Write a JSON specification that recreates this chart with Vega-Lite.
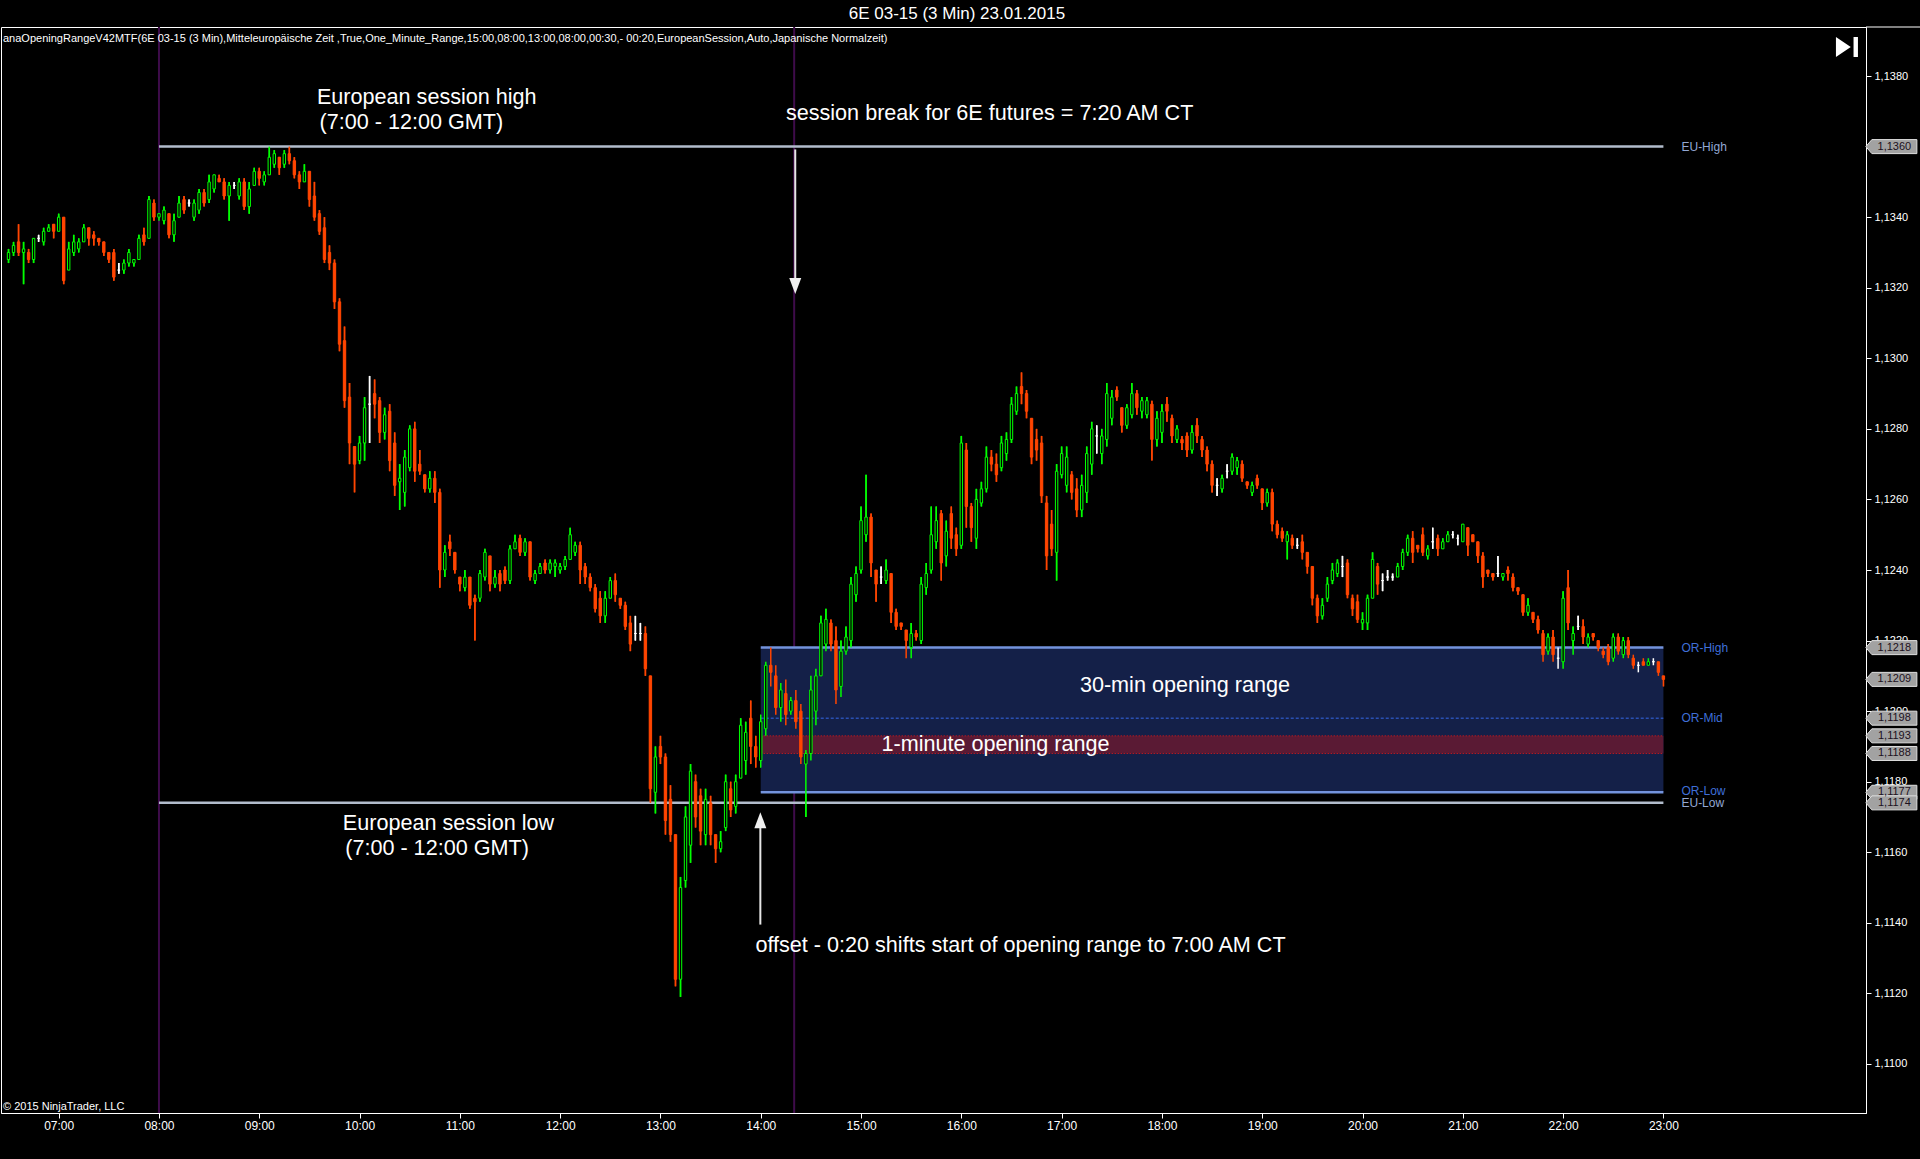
{
"$schema": "https://vega.github.io/schema/vega-lite/v6.json",
"width": 1865,
"height": 1086,
"autosize": {"type": "none"},
"padding": {"left": 1, "top": 27, "right": 54, "bottom": 46},
"background": "#000000",
"config": {"view": {"stroke": "#ffffff", "strokeWidth": 1}, "axis": {"grid": false}},
"datasets": {
"candles": [
{"t":6.5,"o":1.1328,"h":1.1331,"l":1.1327,"c":1.1330},
{"t":6.55,"o":1.1330,"h":1.1333,"l":1.1329,"c":1.1332},
{"t":6.6,"o":1.1333,"h":1.1338,"l":1.1329,"c":1.1330},
{"t":6.65,"o":1.1330,"h":1.1333,"l":1.1321,"c":1.1331},
{"t":6.7,"o":1.1330,"h":1.1331,"l":1.1327,"c":1.1328},
{"t":6.75,"o":1.1328,"h":1.1334,"l":1.1327,"c":1.1334},
{"t":6.8,"o":1.1334,"h":1.1335,"l":1.1333,"c":1.1334},
{"t":6.85,"o":1.1333,"h":1.1337,"l":1.1332,"c":1.1336},
{"t":6.9,"o":1.1336,"h":1.1338,"l":1.1336,"c":1.1337},
{"t":6.95,"o":1.1338,"h":1.1338,"l":1.1334,"c":1.1336},
{"t":7,"o":1.1336,"h":1.1341,"l":1.1336,"c":1.1340},
{"t":7.05,"o":1.1340,"h":1.1340,"l":1.1321,"c":1.1322},
{"t":7.1,"o":1.1325,"h":1.1333,"l":1.1325,"c":1.1331},
{"t":7.15,"o":1.1330,"h":1.1335,"l":1.1329,"c":1.1333},
{"t":7.2,"o":1.1331,"h":1.1334,"l":1.1330,"c":1.1333},
{"t":7.25,"o":1.1333,"h":1.1338,"l":1.1333,"c":1.1337},
{"t":7.3,"o":1.1337,"h":1.1337,"l":1.1332,"c":1.1334},
{"t":7.35,"o":1.1335,"h":1.1336,"l":1.1332,"c":1.1334},
{"t":7.4,"o":1.1334,"h":1.1334,"l":1.1332,"c":1.1333},
{"t":7.45,"o":1.1333,"h":1.1333,"l":1.1329,"c":1.1330},
{"t":7.5,"o":1.1330,"h":1.1330,"l":1.1327,"c":1.1328},
{"t":7.55,"o":1.1330,"h":1.1331,"l":1.1322,"c":1.1323},
{"t":7.6,"o":1.1325,"h":1.1327,"l":1.1324,"c":1.1325},
{"t":7.65,"o":1.1325,"h":1.1328,"l":1.1324,"c":1.1327},
{"t":7.7,"o":1.1327,"h":1.1331,"l":1.1326,"c":1.1330},
{"t":7.75,"o":1.1327,"h":1.1328,"l":1.1326,"c":1.1328},
{"t":7.8,"o":1.1328,"h":1.1335,"l":1.1328,"c":1.1334},
{"t":7.85,"o":1.1335,"h":1.1337,"l":1.1332,"c":1.1333},
{"t":7.9,"o":1.1334,"h":1.1346,"l":1.1334,"c":1.1345},
{"t":7.95,"o":1.1344,"h":1.1345,"l":1.1339,"c":1.1340},
{"t":8,"o":1.1340,"h":1.1341,"l":1.1339,"c":1.1341},
{"t":8.05,"o":1.1339,"h":1.1343,"l":1.1338,"c":1.1342},
{"t":8.1,"o":1.1341,"h":1.1341,"l":1.1334,"c":1.1335},
{"t":8.15,"o":1.1335,"h":1.1341,"l":1.1333,"c":1.1339},
{"t":8.2,"o":1.1340,"h":1.1346,"l":1.1340,"c":1.1344},
{"t":8.25,"o":1.1345,"h":1.1346,"l":1.1341,"c":1.1342},
{"t":8.3,"o":1.1344,"h":1.1345,"l":1.1343,"c":1.1344},
{"t":8.35,"o":1.1340,"h":1.1345,"l":1.1339,"c":1.1344},
{"t":8.4,"o":1.1342,"h":1.1348,"l":1.1341,"c":1.1347},
{"t":8.45,"o":1.1347,"h":1.1348,"l":1.1343,"c":1.1344},
{"t":8.5,"o":1.1345,"h":1.1352,"l":1.1344,"c":1.1350},
{"t":8.55,"o":1.1348,"h":1.1352,"l":1.1347,"c":1.1352},
{"t":8.6,"o":1.1351,"h":1.1352,"l":1.1350,"c":1.1350},
{"t":8.65,"o":1.1350,"h":1.1351,"l":1.1345,"c":1.1346},
{"t":8.7,"o":1.1346,"h":1.1350,"l":1.1339,"c":1.1349},
{"t":8.75,"o":1.1349,"h":1.1350,"l":1.1348,"c":1.1349},
{"t":8.8,"o":1.1346,"h":1.1351,"l":1.1345,"c":1.1350},
{"t":8.85,"o":1.1350,"h":1.1351,"l":1.1342,"c":1.1343},
{"t":8.9,"o":1.1343,"h":1.1350,"l":1.1341,"c":1.1348},
{"t":8.95,"o":1.1349,"h":1.1354,"l":1.1349,"c":1.1353},
{"t":9,"o":1.1353,"h":1.1354,"l":1.1349,"c":1.1351},
{"t":9.05,"o":1.1350,"h":1.1353,"l":1.1349,"c":1.1352},
{"t":9.1,"o":1.1352,"h":1.1360,"l":1.1352,"c":1.1357},
{"t":9.15,"o":1.1355,"h":1.1359,"l":1.1354,"c":1.1358},
{"t":9.2,"o":1.1357,"h":1.1357,"l":1.1352,"c":1.1354},
{"t":9.25,"o":1.1355,"h":1.1359,"l":1.1354,"c":1.1358},
{"t":9.3,"o":1.1358,"h":1.1360,"l":1.1355,"c":1.1356},
{"t":9.35,"o":1.1356,"h":1.1357,"l":1.1351,"c":1.1352},
{"t":9.4,"o":1.1352,"h":1.1353,"l":1.1348,"c":1.1350},
{"t":9.45,"o":1.1350,"h":1.1355,"l":1.1350,"c":1.1353},
{"t":9.5,"o":1.1353,"h":1.1353,"l":1.1343,"c":1.1345},
{"t":9.55,"o":1.1346,"h":1.1350,"l":1.1339,"c":1.1340},
{"t":9.6,"o":1.1341,"h":1.1342,"l":1.1335,"c":1.1336},
{"t":9.65,"o":1.1337,"h":1.1340,"l":1.1327,"c":1.1328},
{"t":9.7,"o":1.1330,"h":1.1332,"l":1.1325,"c":1.1327},
{"t":9.75,"o":1.1327,"h":1.1328,"l":1.1314,"c":1.1316},
{"t":9.8,"o":1.1316,"h":1.1317,"l":1.1302,"c":1.1304},
{"t":9.85,"o":1.1305,"h":1.1309,"l":1.1286,"c":1.1288},
{"t":9.9,"o":1.1289,"h":1.1293,"l":1.1270,"c":1.1276},
{"t":9.95,"o":1.1275,"h":1.1275,"l":1.1262,"c":1.1270},
{"t":10,"o":1.1271,"h":1.1278,"l":1.1270,"c":1.1276},
{"t":10.05,"o":1.1276,"h":1.1289,"l":1.1271,"c":1.1286},
{"t":10.1,"o":1.1287,"h":1.1295,"l":1.1276,"c":1.1287},
{"t":10.15,"o":1.1290,"h":1.1294,"l":1.1283,"c":1.1287},
{"t":10.2,"o":1.1288,"h":1.1289,"l":1.1276,"c":1.1279},
{"t":10.25,"o":1.1279,"h":1.1286,"l":1.1277,"c":1.1284},
{"t":10.3,"o":1.1285,"h":1.1287,"l":1.1268,"c":1.1271},
{"t":10.35,"o":1.1276,"h":1.1279,"l":1.1261,"c":1.1264},
{"t":10.4,"o":1.1265,"h":1.1270,"l":1.1257,"c":1.1266},
{"t":10.45,"o":1.1262,"h":1.1274,"l":1.1258,"c":1.1272},
{"t":10.5,"o":1.1269,"h":1.1281,"l":1.1268,"c":1.1280},
{"t":10.55,"o":1.1280,"h":1.1282,"l":1.1265,"c":1.1268},
{"t":10.6,"o":1.1270,"h":1.1274,"l":1.1267,"c":1.1268},
{"t":10.65,"o":1.1267,"h":1.1267,"l":1.1262,"c":1.1263},
{"t":10.7,"o":1.1263,"h":1.1268,"l":1.1262,"c":1.1266},
{"t":10.75,"o":1.1266,"h":1.1268,"l":1.1259,"c":1.1262},
{"t":10.8,"o":1.1262,"h":1.1263,"l":1.1235,"c":1.1240},
{"t":10.85,"o":1.1240,"h":1.1247,"l":1.1238,"c":1.1245},
{"t":10.9,"o":1.1248,"h":1.1250,"l":1.1244,"c":1.1246},
{"t":10.95,"o":1.1245,"h":1.1245,"l":1.1239,"c":1.1240},
{"t":11,"o":1.1238,"h":1.1238,"l":1.1234,"c":1.1236},
{"t":11.05,"o":1.1235,"h":1.1240,"l":1.1234,"c":1.1238},
{"t":11.1,"o":1.1238,"h":1.1238,"l":1.1229,"c":1.1230},
{"t":11.15,"o":1.1232,"h":1.1233,"l":1.1220,"c":1.1231},
{"t":11.2,"o":1.1232,"h":1.1240,"l":1.1231,"c":1.1239},
{"t":11.25,"o":1.1238,"h":1.1246,"l":1.1237,"c":1.1245},
{"t":11.3,"o":1.1244,"h":1.1244,"l":1.1234,"c":1.1236},
{"t":11.35,"o":1.1236,"h":1.1240,"l":1.1235,"c":1.1238},
{"t":11.4,"o":1.1239,"h":1.1240,"l":1.1234,"c":1.1236},
{"t":11.45,"o":1.1240,"h":1.1241,"l":1.1236,"c":1.1237},
{"t":11.5,"o":1.1237,"h":1.1247,"l":1.1236,"c":1.1246},
{"t":11.55,"o":1.1246,"h":1.1250,"l":1.1246,"c":1.1248},
{"t":11.6,"o":1.1249,"h":1.1250,"l":1.1244,"c":1.1245},
{"t":11.65,"o":1.1245,"h":1.1249,"l":1.1244,"c":1.1248},
{"t":11.7,"o":1.1248,"h":1.1248,"l":1.1237,"c":1.1238},
{"t":11.75,"o":1.1237,"h":1.1240,"l":1.1236,"c":1.1239},
{"t":11.8,"o":1.1239,"h":1.1242,"l":1.1239,"c":1.1241},
{"t":11.85,"o":1.1242,"h":1.1243,"l":1.1239,"c":1.1240},
{"t":11.9,"o":1.1240,"h":1.1243,"l":1.1239,"c":1.1242},
{"t":11.95,"o":1.1241,"h":1.1243,"l":1.1238,"c":1.1242},
{"t":12,"o":1.1240,"h":1.1242,"l":1.1239,"c":1.1241},
{"t":12.05,"o":1.1241,"h":1.1244,"l":1.1240,"c":1.1243},
{"t":12.1,"o":1.1243,"h":1.1252,"l":1.1243,"c":1.1250},
{"t":12.15,"o":1.1245,"h":1.1248,"l":1.1244,"c":1.1247},
{"t":12.2,"o":1.1247,"h":1.1248,"l":1.1236,"c":1.1240},
{"t":12.25,"o":1.1241,"h":1.1242,"l":1.1236,"c":1.1238},
{"t":12.3,"o":1.1238,"h":1.1239,"l":1.1234,"c":1.1235},
{"t":12.35,"o":1.1235,"h":1.1236,"l":1.1228,"c":1.1229},
{"t":12.4,"o":1.1232,"h":1.1234,"l":1.1225,"c":1.1227},
{"t":12.45,"o":1.1227,"h":1.1234,"l":1.1225,"c":1.1232},
{"t":12.5,"o":1.1232,"h":1.1238,"l":1.1232,"c":1.1237},
{"t":12.55,"o":1.1237,"h":1.1239,"l":1.1231,"c":1.1233},
{"t":12.6,"o":1.1232,"h":1.1232,"l":1.1229,"c":1.1230},
{"t":12.65,"o":1.1230,"h":1.1231,"l":1.1223,"c":1.1224},
{"t":12.7,"o":1.1225,"h":1.1227,"l":1.1217,"c":1.1219},
{"t":12.75,"o":1.1222,"h":1.1227,"l":1.1220,"c":1.1222},
{"t":12.8,"o":1.1222,"h":1.1225,"l":1.1220,"c":1.1222},
{"t":12.85,"o":1.1222,"h":1.1224,"l":1.1210,"c":1.1212},
{"t":12.9,"o":1.1210,"h":1.1210,"l":1.1174,"c":1.1178},
{"t":12.95,"o":1.1177,"h":1.1190,"l":1.1171,"c":1.1187},
{"t":13,"o":1.1190,"h":1.1193,"l":1.1185,"c":1.1187},
{"t":13.05,"o":1.1187,"h":1.1188,"l":1.1165,"c":1.1169},
{"t":13.1,"o":1.1175,"h":1.1179,"l":1.1163,"c":1.1165},
{"t":13.15,"o":1.1165,"h":1.1165,"l":1.1122,"c":1.1124},
{"t":13.2,"o":1.1124,"h":1.1153,"l":1.1119,"c":1.1150},
{"t":13.25,"o":1.1152,"h":1.1173,"l":1.1150,"c":1.1170},
{"t":13.3,"o":1.1162,"h":1.1185,"l":1.1157,"c":1.1183},
{"t":13.35,"o":1.1180,"h":1.1182,"l":1.1167,"c":1.1170},
{"t":13.4,"o":1.1176,"h":1.1178,"l":1.1162,"c":1.1166},
{"t":13.45,"o":1.1165,"h":1.1178,"l":1.1162,"c":1.1175},
{"t":13.5,"o":1.1174,"h":1.1176,"l":1.1162,"c":1.1165},
{"t":13.55,"o":1.1165,"h":1.1165,"l":1.1157,"c":1.1161},
{"t":13.6,"o":1.1161,"h":1.1166,"l":1.1160,"c":1.1163},
{"t":13.65,"o":1.1167,"h":1.1182,"l":1.1166,"c":1.1180},
{"t":13.7,"o":1.1178,"h":1.1180,"l":1.1170,"c":1.1172},
{"t":13.75,"o":1.1173,"h":1.1182,"l":1.1171,"c":1.1180},
{"t":13.8,"o":1.1181,"h":1.1198,"l":1.1181,"c":1.1196},
{"t":13.85,"o":1.1186,"h":1.1197,"l":1.1182,"c":1.1194},
{"t":13.9,"o":1.1198,"h":1.1203,"l":1.1185,"c":1.1190},
{"t":13.95,"o":1.1190,"h":1.1193,"l":1.1184,"c":1.1187},
{"t":14,"o":1.1186,"h":1.1199,"l":1.1184,"c":1.1197},
{"t":14.05,"o":1.1195,"h":1.1214,"l":1.1193,"c":1.1213},
{"t":14.1,"o":1.1213,"h":1.1218,"l":1.1207,"c":1.1211},
{"t":14.15,"o":1.1210,"h":1.1213,"l":1.1199,"c":1.1201},
{"t":14.2,"o":1.1201,"h":1.1208,"l":1.1197,"c":1.1206},
{"t":14.25,"o":1.1205,"h":1.1209,"l":1.1196,"c":1.1199},
{"t":14.3,"o":1.1200,"h":1.1204,"l":1.1199,"c":1.1203},
{"t":14.35,"o":1.1203,"h":1.1206,"l":1.1195,"c":1.1197},
{"t":14.4,"o":1.1200,"h":1.1202,"l":1.1185,"c":1.1187},
{"t":14.45,"o":1.1185,"h":1.1189,"l":1.1170,"c":1.1188},
{"t":14.5,"o":1.1188,"h":1.1210,"l":1.1186,"c":1.1206},
{"t":14.55,"o":1.1200,"h":1.1212,"l":1.1196,"c":1.1210},
{"t":14.6,"o":1.1210,"h":1.1227,"l":1.1210,"c":1.1225},
{"t":14.65,"o":1.1219,"h":1.1229,"l":1.1217,"c":1.1226},
{"t":14.7,"o":1.1225,"h":1.1226,"l":1.1217,"c":1.1219},
{"t":14.75,"o":1.1220,"h":1.1224,"l":1.1202,"c":1.1206},
{"t":14.8,"o":1.1207,"h":1.1220,"l":1.1204,"c":1.1217},
{"t":14.85,"o":1.1217,"h":1.1224,"l":1.1216,"c":1.1221},
{"t":14.9,"o":1.1220,"h":1.1238,"l":1.1218,"c":1.1236},
{"t":14.95,"o":1.1233,"h":1.1241,"l":1.1231,"c":1.1239},
{"t":15,"o":1.1240,"h":1.1258,"l":1.1239,"c":1.1254},
{"t":15.05,"o":1.1250,"h":1.1267,"l":1.1248,"c":1.1255},
{"t":15.1,"o":1.1255,"h":1.1256,"l":1.1238,"c":1.1242},
{"t":15.15,"o":1.1240,"h":1.1240,"l":1.1231,"c":1.1236},
{"t":15.2,"o":1.1238,"h":1.1241,"l":1.1236,"c":1.1238},
{"t":15.25,"o":1.1237,"h":1.1243,"l":1.1236,"c":1.1240},
{"t":15.3,"o":1.1239,"h":1.1239,"l":1.1225,"c":1.1228},
{"t":15.35,"o":1.1228,"h":1.1229,"l":1.1223,"c":1.1224},
{"t":15.4,"o":1.1225,"h":1.1225,"l":1.1223,"c":1.1224},
{"t":15.45,"o":1.1223,"h":1.1223,"l":1.1215,"c":1.1220},
{"t":15.5,"o":1.1218,"h":1.1225,"l":1.1215,"c":1.1222},
{"t":15.55,"o":1.1222,"h":1.1223,"l":1.1220,"c":1.1221},
{"t":15.6,"o":1.1220,"h":1.1238,"l":1.1219,"c":1.1236},
{"t":15.65,"o":1.1235,"h":1.1242,"l":1.1233,"c":1.1239},
{"t":15.7,"o":1.1240,"h":1.1258,"l":1.1239,"c":1.1250},
{"t":15.75,"o":1.1248,"h":1.1258,"l":1.1246,"c":1.1254},
{"t":15.8,"o":1.1256,"h":1.1257,"l":1.1237,"c":1.1242},
{"t":15.85,"o":1.1244,"h":1.1254,"l":1.1241,"c":1.1251},
{"t":15.9,"o":1.1256,"h":1.1258,"l":1.1246,"c":1.1249},
{"t":15.95,"o":1.1250,"h":1.1252,"l":1.1244,"c":1.1246},
{"t":16,"o":1.1247,"h":1.1278,"l":1.1246,"c":1.1276},
{"t":16.05,"o":1.1274,"h":1.1276,"l":1.1252,"c":1.1258},
{"t":16.1,"o":1.1258,"h":1.1259,"l":1.1248,"c":1.1252},
{"t":16.15,"o":1.1249,"h":1.1263,"l":1.1246,"c":1.1260},
{"t":16.2,"o":1.1259,"h":1.1265,"l":1.1258,"c":1.1263},
{"t":16.25,"o":1.1263,"h":1.1275,"l":1.1262,"c":1.1272},
{"t":16.3,"o":1.1272,"h":1.1274,"l":1.1268,"c":1.1270},
{"t":16.35,"o":1.1270,"h":1.1273,"l":1.1265,"c":1.1267},
{"t":16.4,"o":1.1269,"h":1.1278,"l":1.1268,"c":1.1276},
{"t":16.45,"o":1.1273,"h":1.1279,"l":1.1271,"c":1.1277},
{"t":16.5,"o":1.1277,"h":1.1289,"l":1.1276,"c":1.1287},
{"t":16.55,"o":1.1285,"h":1.1292,"l":1.1284,"c":1.1290},
{"t":16.6,"o":1.1292,"h":1.1296,"l":1.1287,"c":1.1290},
{"t":16.65,"o":1.1290,"h":1.1291,"l":1.1283,"c":1.1285},
{"t":16.7,"o":1.1283,"h":1.1283,"l":1.1270,"c":1.1272},
{"t":16.75,"o":1.1277,"h":1.1280,"l":1.1271,"c":1.1274},
{"t":16.8,"o":1.1276,"h":1.1278,"l":1.1259,"c":1.1261},
{"t":16.85,"o":1.1259,"h":1.1261,"l":1.1240,"c":1.1244},
{"t":16.9,"o":1.1253,"h":1.1257,"l":1.1244,"c":1.1246},
{"t":16.95,"o":1.1245,"h":1.1270,"l":1.1237,"c":1.1268},
{"t":17,"o":1.1267,"h":1.1275,"l":1.1266,"c":1.1273},
{"t":17.05,"o":1.1264,"h":1.1275,"l":1.1262,"c":1.1272},
{"t":17.1,"o":1.1267,"h":1.1268,"l":1.1260,"c":1.1262},
{"t":17.15,"o":1.1263,"h":1.1266,"l":1.1255,"c":1.1257},
{"t":17.2,"o":1.1257,"h":1.1267,"l":1.1255,"c":1.1264},
{"t":17.25,"o":1.1262,"h":1.1275,"l":1.1259,"c":1.1273},
{"t":17.3,"o":1.1270,"h":1.1282,"l":1.1267,"c":1.1280},
{"t":17.35,"o":1.1278,"h":1.1281,"l":1.1273,"c":1.1278},
{"t":17.4,"o":1.1273,"h":1.1280,"l":1.1270,"c":1.1278},
{"t":17.45,"o":1.1277,"h":1.1293,"l":1.1275,"c":1.1290},
{"t":17.5,"o":1.1283,"h":1.1291,"l":1.1281,"c":1.1289},
{"t":17.55,"o":1.1291,"h":1.1292,"l":1.1288,"c":1.1289},
{"t":17.6,"o":1.1286,"h":1.1286,"l":1.1279,"c":1.1281},
{"t":17.65,"o":1.1281,"h":1.1287,"l":1.1280,"c":1.1286},
{"t":17.7,"o":1.1284,"h":1.1293,"l":1.1283,"c":1.1290},
{"t":17.75,"o":1.1290,"h":1.1291,"l":1.1284,"c":1.1286},
{"t":17.8,"o":1.1285,"h":1.1289,"l":1.1283,"c":1.1288},
{"t":17.85,"o":1.1284,"h":1.1289,"l":1.1283,"c":1.1288},
{"t":17.9,"o":1.1287,"h":1.1288,"l":1.1271,"c":1.1277},
{"t":17.95,"o":1.1277,"h":1.1285,"l":1.1275,"c":1.1283},
{"t":18,"o":1.1279,"h":1.1287,"l":1.1276,"c":1.1285},
{"t":18.05,"o":1.1287,"h":1.1289,"l":1.1282,"c":1.1285},
{"t":18.1,"o":1.1283,"h":1.1284,"l":1.1276,"c":1.1278},
{"t":18.15,"o":1.1277,"h":1.1281,"l":1.1276,"c":1.1280},
{"t":18.2,"o":1.1277,"h":1.1278,"l":1.1274,"c":1.1276},
{"t":18.25,"o":1.1278,"h":1.1279,"l":1.1272,"c":1.1274},
{"t":18.3,"o":1.1274,"h":1.1281,"l":1.1273,"c":1.1279},
{"t":18.35,"o":1.1281,"h":1.1283,"l":1.1276,"c":1.1278},
{"t":18.4,"o":1.1277,"h":1.1278,"l":1.1272,"c":1.1274},
{"t":18.45,"o":1.1274,"h":1.1275,"l":1.1268,"c":1.1270},
{"t":18.5,"o":1.1270,"h":1.1271,"l":1.1262,"c":1.1264},
{"t":18.55,"o":1.1264,"h":1.1266,"l":1.1261,"c":1.1264},
{"t":18.6,"o":1.1263,"h":1.1267,"l":1.1262,"c":1.1266},
{"t":18.65,"o":1.1268,"h":1.1270,"l":1.1266,"c":1.1268},
{"t":18.7,"o":1.1268,"h":1.1273,"l":1.1267,"c":1.1272},
{"t":18.75,"o":1.1269,"h":1.1272,"l":1.1267,"c":1.1271},
{"t":18.8,"o":1.1270,"h":1.1271,"l":1.1265,"c":1.1266},
{"t":18.85,"o":1.1265,"h":1.1265,"l":1.1263,"c":1.1264},
{"t":18.9,"o":1.1262,"h":1.1265,"l":1.1261,"c":1.1264},
{"t":18.95,"o":1.1266,"h":1.1267,"l":1.1263,"c":1.1264},
{"t":19,"o":1.1263,"h":1.1263,"l":1.1257,"c":1.1259},
{"t":19.05,"o":1.1259,"h":1.1263,"l":1.1258,"c":1.1262},
{"t":19.1,"o":1.1262,"h":1.1263,"l":1.1251,"c":1.1253},
{"t":19.15,"o":1.1253,"h":1.1254,"l":1.1249,"c":1.1250},
{"t":19.2,"o":1.1251,"h":1.1252,"l":1.1248,"c":1.1249},
{"t":19.25,"o":1.1248,"h":1.1251,"l":1.1243,"c":1.1250},
{"t":19.3,"o":1.1249,"h":1.1250,"l":1.1246,"c":1.1247},
{"t":19.35,"o":1.1247,"h":1.1249,"l":1.1246,"c":1.1247},
{"t":19.4,"o":1.1248,"h":1.1250,"l":1.1243,"c":1.1245},
{"t":19.45,"o":1.1245,"h":1.1245,"l":1.1239,"c":1.1241},
{"t":19.5,"o":1.1241,"h":1.1241,"l":1.1230,"c":1.1232},
{"t":19.55,"o":1.1232,"h":1.1233,"l":1.1225,"c":1.1227},
{"t":19.6,"o":1.1227,"h":1.1232,"l":1.1226,"c":1.1230},
{"t":19.65,"o":1.1232,"h":1.1238,"l":1.1231,"c":1.1236},
{"t":19.7,"o":1.1237,"h":1.1242,"l":1.1236,"c":1.1240},
{"t":19.75,"o":1.1239,"h":1.1243,"l":1.1238,"c":1.1242},
{"t":19.8,"o":1.1241,"h":1.1244,"l":1.1238,"c":1.1241},
{"t":19.85,"o":1.1242,"h":1.1243,"l":1.1232,"c":1.1233},
{"t":19.9,"o":1.1232,"h":1.1233,"l":1.1227,"c":1.1229},
{"t":19.95,"o":1.1231,"h":1.1233,"l":1.1225,"c":1.1226},
{"t":20,"o":1.1225,"h":1.1228,"l":1.1223,"c":1.1226},
{"t":20.05,"o":1.1225,"h":1.1233,"l":1.1223,"c":1.1232},
{"t":20.1,"o":1.1232,"h":1.1245,"l":1.1232,"c":1.1243},
{"t":20.15,"o":1.1241,"h":1.1242,"l":1.1233,"c":1.1236},
{"t":20.2,"o":1.1237,"h":1.1239,"l":1.1234,"c":1.1237},
{"t":20.25,"o":1.1238,"h":1.1240,"l":1.1237,"c":1.1238},
{"t":20.3,"o":1.1238,"h":1.1239,"l":1.1237,"c":1.1238},
{"t":20.35,"o":1.1238,"h":1.1242,"l":1.1238,"c":1.1241},
{"t":20.4,"o":1.1241,"h":1.1246,"l":1.1240,"c":1.1245},
{"t":20.45,"o":1.1245,"h":1.1250,"l":1.1244,"c":1.1249},
{"t":20.5,"o":1.1249,"h":1.1251,"l":1.1242,"c":1.1245},
{"t":20.55,"o":1.1247,"h":1.1247,"l":1.1245,"c":1.1246},
{"t":20.6,"o":1.1250,"h":1.1252,"l":1.1244,"c":1.1245},
{"t":20.65,"o":1.1244,"h":1.1247,"l":1.1243,"c":1.1246},
{"t":20.7,"o":1.1248,"h":1.1252,"l":1.1246,"c":1.1248},
{"t":20.75,"o":1.1249,"h":1.1250,"l":1.1244,"c":1.1246},
{"t":20.8,"o":1.1246,"h":1.1249,"l":1.1246,"c":1.1248},
{"t":20.85,"o":1.1248,"h":1.1251,"l":1.1248,"c":1.1250},
{"t":20.9,"o":1.1250,"h":1.1251,"l":1.1249,"c":1.1250},
{"t":20.95,"o":1.1249,"h":1.1250,"l":1.1247,"c":1.1249},
{"t":21,"o":1.1248,"h":1.1253,"l":1.1248,"c":1.1253},
{"t":21.05,"o":1.1252,"h":1.1252,"l":1.1244,"c":1.1247},
{"t":21.1,"o":1.1250,"h":1.1250,"l":1.1248,"c":1.1248},
{"t":21.15,"o":1.1248,"h":1.1248,"l":1.1242,"c":1.1244},
{"t":21.2,"o":1.1244,"h":1.1245,"l":1.1235,"c":1.1238},
{"t":21.25,"o":1.1240,"h":1.1240,"l":1.1238,"c":1.1239},
{"t":21.3,"o":1.1239,"h":1.1239,"l":1.1237,"c":1.1238},
{"t":21.35,"o":1.1239,"h":1.1244,"l":1.1238,"c":1.1239},
{"t":21.4,"o":1.1238,"h":1.1239,"l":1.1237,"c":1.1239},
{"t":21.45,"o":1.1240,"h":1.1241,"l":1.1237,"c":1.1239},
{"t":21.5,"o":1.1238,"h":1.1239,"l":1.1234,"c":1.1235},
{"t":21.55,"o":1.1235,"h":1.1235,"l":1.1233,"c":1.1234},
{"t":21.6,"o":1.1233,"h":1.1233,"l":1.1227,"c":1.1228},
{"t":21.65,"o":1.1228,"h":1.1232,"l":1.1227,"c":1.1230},
{"t":21.7,"o":1.1228,"h":1.1228,"l":1.1225,"c":1.1226},
{"t":21.75,"o":1.1226,"h":1.1227,"l":1.1222,"c":1.1223},
{"t":21.8,"o":1.1222,"h":1.1223,"l":1.1214,"c":1.1216},
{"t":21.85,"o":1.1217,"h":1.1222,"l":1.1216,"c":1.1221},
{"t":21.9,"o":1.1221,"h":1.1223,"l":1.1214,"c":1.1216},
{"t":21.95,"o":1.1215,"h":1.1218,"l":1.1212,"c":1.1215},
{"t":22,"o":1.1214,"h":1.1234,"l":1.1212,"c":1.1232},
{"t":22.05,"o":1.1235,"h":1.1240,"l":1.1223,"c":1.1225},
{"t":22.1,"o":1.1220,"h":1.1224,"l":1.1216,"c":1.1222},
{"t":22.15,"o":1.1224,"h":1.1227,"l":1.1223,"c":1.1224},
{"t":22.2,"o":1.1224,"h":1.1226,"l":1.1219,"c":1.1221},
{"t":22.25,"o":1.1219,"h":1.1222,"l":1.1218,"c":1.1221},
{"t":22.3,"o":1.1222,"h":1.1222,"l":1.1220,"c":1.1221},
{"t":22.35,"o":1.1220,"h":1.1220,"l":1.1217,"c":1.1218},
{"t":22.4,"o":1.1217,"h":1.1218,"l":1.1215,"c":1.1216},
{"t":22.45,"o":1.1218,"h":1.1219,"l":1.1213,"c":1.1214},
{"t":22.5,"o":1.1215,"h":1.1222,"l":1.1214,"c":1.1221},
{"t":22.55,"o":1.1221,"h":1.1222,"l":1.1216,"c":1.1217},
{"t":22.6,"o":1.1216,"h":1.1221,"l":1.1215,"c":1.1220},
{"t":22.65,"o":1.1220,"h":1.1221,"l":1.1215,"c":1.1216},
{"t":22.7,"o":1.1215,"h":1.1216,"l":1.1212,"c":1.1213},
{"t":22.75,"o":1.1213,"h":1.1214,"l":1.1211,"c":1.1213},
{"t":22.8,"o":1.1214,"h":1.1215,"l":1.1213,"c":1.1213},
{"t":22.85,"o":1.1213,"h":1.1215,"l":1.1213,"c":1.1214},
{"t":22.9,"o":1.1214,"h":1.1215,"l":1.1213,"c":1.1214},
{"t":22.95,"o":1.1214,"h":1.1214,"l":1.1210,"c":1.1211},
{"t":23,"o":1.1210,"h":1.1210,"l":1.1207,"c":1.1209}
]
},
"layer": [
{"data": {"name": "candles"},
 "mark": {"type": "rule", "strokeWidth": 1.5},
 "encoding": {
  "x": {"field": "t", "type": "quantitative", "title": null, "scale": {"domain": [6.425, 25.02], "nice": false, "zero": false, "padding": 0},
        "axis": {"title": null, "grid": false, "values": [7,8,9,10,11,12,13,14,15,16,17,18,19,20,21,22,23], "labelExpr": "(datum.value < 10 ? '0' : '') + datum.value + ':00'", "domainColor": "#ffffff", "tickColor": "#ffffff", "tickSize": 5, "labelColor": "#ffffff", "labelFont": "Liberation Sans Narrow, Liberation Sans", "labelFontSize": 12, "labelPadding": 2, "labelFlush": false, "labelOverlap": false}},
  "y": {"field": "l", "type": "quantitative", "title": null, "scale": {"domain": [1.10861, 1.13939], "nice": false, "zero": false, "padding": 0},
        "axis": {"title": null, "grid": false, "orient": "right", "values": [1.110,1.112,1.114,1.116,1.118,1.120,1.122,1.124,1.126,1.128,1.130,1.132,1.134,1.136,1.138], "labelExpr": "replace(format(datum.value, '.4f'), '.', ',')", "domainColor": "#ffffff", "tickColor": "#ffffff", "tickSize": 5, "labelColor": "#ffffff", "labelFont": "Liberation Sans", "labelFontSize": 11, "labelPadding": 3, "labelFlush": false, "labelOverlap": false}},
  "y2": {"field": "h"},
  "stroke": {"condition": [{"test": "datum.c > datum.o", "value": "#00ff00"}, {"test": "datum.c < datum.o", "value": "#ff4500"}], "value": "#ffffff"}
 }},
{"data": {"values": [{"t": 8}, {"t": 14.3333}]},
 "mark": {"type": "rule", "color": "#3e0c4a", "strokeWidth": 2},
 "encoding": {"x": {"field": "t", "type": "quantitative"}}},
{"data": {"values": [{"t": 14, "t2": 23, "p": 1.1177, "p2": 1.1218}]},
 "mark": {"type": "rect", "fill": "#142048"},
 "encoding": {"x": {"field": "t", "type": "quantitative"}, "x2": {"field": "t2"}, "y": {"field": "p", "type": "quantitative"}, "y2": {"field": "p2"}}},
{"data": {"values": [{"t": 14, "t2": 23, "p": 1.1188, "p2": 1.1193}]},
 "mark": {"type": "rect", "fill": "#5a1a34"},
 "encoding": {"x": {"field": "t", "type": "quantitative"}, "x2": {"field": "t2"}, "y": {"field": "p", "type": "quantitative"}, "y2": {"field": "p2"}}},
{"data": {"values": [{"t": 14, "t2": 23, "p": 1.1188}, {"t": 14, "t2": 23, "p": 1.1193}]},
 "mark": {"type": "rule", "color": "#e01818", "strokeWidth": 1, "strokeDash": [1, 2]},
 "encoding": {"x": {"field": "t", "type": "quantitative"}, "x2": {"field": "t2"}, "y": {"field": "p", "type": "quantitative"}}},
{"data": {"values": [{"t": 14, "t2": 23, "p": 1.1198}]},
 "mark": {"type": "rule", "color": "#3468e8", "strokeWidth": 1, "strokeDash": [3, 2]},
 "encoding": {"x": {"field": "t", "type": "quantitative"}, "x2": {"field": "t2"}, "y": {"field": "p", "type": "quantitative"}}},
{"data": {"values": [{"t": 14, "t2": 23, "p": 1.1218}, {"t": 14, "t2": 23, "p": 1.1177}]},
 "mark": {"type": "rule", "color": "#7393dc", "strokeWidth": 2.5},
 "encoding": {"x": {"field": "t", "type": "quantitative"}, "x2": {"field": "t2"}, "y": {"field": "p", "type": "quantitative"}}},
{"data": {"values": [{"t": 8, "t2": 23, "p": 1.136}, {"t": 8, "t2": 23, "p": 1.1174}]},
 "mark": {"type": "rule", "color": "#b2bccc", "strokeWidth": 2.5},
 "encoding": {"x": {"field": "t", "type": "quantitative"}, "x2": {"field": "t2"}, "y": {"field": "p", "type": "quantitative"}}},
{"data": {"name": "candles"},
 "mark": {"type": "rule", "strokeWidth": 1.5},
 "encoding": {
  "x": {"field": "t", "type": "quantitative"},
  "y": {"field": "l", "type": "quantitative"},
  "y2": {"field": "h"},
  "stroke": {"condition": [{"test": "datum.c > datum.o", "value": "#00ff00"}, {"test": "datum.c < datum.o", "value": "#ff4500"}], "value": "#ffffff"}
 }},
{"data": {"name": "candles"},
 "mark": {"type": "bar", "width": 2.4, "strokeWidth": 1},
 "encoding": {
  "x": {"field": "t", "type": "quantitative", "scale": {"domain": [6.425, 25.02], "nice": false, "zero": false, "padding": 0}},
  "y": {"field": "o", "type": "quantitative", "scale": {"domain": [1.10861, 1.13939], "nice": false, "zero": false, "padding": 0}},
  "y2": {"field": "c"},
  "stroke": {"condition": [{"test": "datum.c > datum.o", "value": "#00ff00"}, {"test": "datum.c < datum.o", "value": "#ff4500"}], "value": "#ffffff"},
  "fill": {"condition": [{"test": "datum.c > datum.o", "value": "#000000"}, {"test": "datum.c < datum.o", "value": "#ff4500"}], "value": "#ffffff"}
 }},
{"data": {"values": [{"t": 14.344, "p": 1.13592, "p2": 1.1322}, {"t": 13.996, "p": 1.1168, "p2": 1.11395}]},
 "mark": {"type": "rule", "color": "#e6e6e6", "strokeWidth": 2},
 "encoding": {"x": {"field": "t", "type": "quantitative"}, "y": {"field": "p", "type": "quantitative"}, "y2": {"field": "p2"}}},
{"data": {"values": [{"t": 14.344, "p": 1.13205}]},
 "mark": {"type": "point", "shape": "M-0.75,-1L0.75,-1L0,1Z", "size": 256, "filled": true, "color": "#f0f0f0", "opacity": 1},
 "encoding": {"x": {"field": "t", "type": "quantitative"}, "y": {"field": "p", "type": "quantitative"}}},
{"data": {"values": [{"t": 13.996, "p": 1.11691}]},
 "mark": {"type": "point", "shape": "M-0.75,1L0.75,1L0,-1Z", "size": 256, "filled": true, "color": "#f0f0f0", "opacity": 1},
 "encoding": {"x": {"field": "t", "type": "quantitative"}, "y": {"field": "p", "type": "quantitative"}}},
{"data": {"values": [
  {"t": 9.575, "p": 1.13737, "txt": "European session high"},
  {"t": 9.601, "p": 1.13668, "txt": "(7:00 - 12:00 GMT)"},
  {"t": 14.251, "p": 1.13692, "txt": "session break for 6E futures = 7:20 AM CT"},
  {"t": 17.182, "p": 1.12072, "txt": "30-min opening range"},
  {"t": 15.204, "p": 1.11905, "txt": "1-minute opening range"},
  {"t": 9.833, "p": 1.1168, "txt": "European session low"},
  {"t": 9.857, "p": 1.1161, "txt": "(7:00 - 12:00 GMT)"},
  {"t": 13.947, "p": 1.11333, "txt": "offset - 0:20 shifts start of opening range to 7:00 AM CT"}
 ]},
 "mark": {"type": "text", "align": "left", "baseline": "middle", "font": "Liberation Sans", "fontSize": 21.6, "color": "#ffffff"},
 "encoding": {"x": {"field": "t", "type": "quantitative"}, "y": {"field": "p", "type": "quantitative"}, "text": {"field": "txt"}}},
{"data": {"values": [
  {"t": 23.18, "p": 1.136, "txt": "EU-High"},
  {"t": 23.18, "p": 1.1174, "txt": "EU-Low"}
 ]},
 "mark": {"type": "text", "align": "left", "baseline": "middle", "font": "Liberation Sans", "fontSize": 12, "color": "#93a8d4"},
 "encoding": {"x": {"field": "t", "type": "quantitative"}, "y": {"field": "p", "type": "quantitative"}, "text": {"field": "txt"}}},
{"data": {"values": [
  {"t": 23.18, "p": 1.1218, "txt": "OR-High"},
  {"t": 23.18, "p": 1.1198, "txt": "OR-Mid"},
  {"t": 23.18, "p": 1.11775, "txt": "OR-Low"}
 ]},
 "mark": {"type": "text", "align": "left", "baseline": "middle", "font": "Liberation Sans", "fontSize": 12, "color": "#3f6fd8"},
 "encoding": {"x": {"field": "t", "type": "quantitative"}, "y": {"field": "p", "type": "quantitative"}, "text": {"field": "txt"}}},
{"data": {"values": [
  {"t": 25.273, "p": 1.136},
  {"t": 25.273, "p": 1.1218},
  {"t": 25.273, "p": 1.1209},
  {"t": 25.273, "p": 1.1198},
  {"t": 25.273, "p": 1.1193},
  {"t": 25.273, "p": 1.1188},
  {"t": 25.273, "p": 1.1177},
  {"t": 25.273, "p": 1.1174}
 ]},
 "mark": {"type": "point", "shape": "M-1,0L-0.765,-0.2745L1,-0.2745L1,0.2745L-0.765,0.2745Z", "size": 2601, "filled": true, "fill": "#a2a2a2", "stroke": "#e0e0e0", "strokeWidth": 1, "opacity": 1},
 "encoding": {"x": {"field": "t", "type": "quantitative"}, "y": {"field": "p", "type": "quantitative"}}},
{"data": {"values": [
  {"tl": 25.303, "p": 1.136, "label": "1,1360"},
  {"tl": 25.303, "p": 1.1218, "label": "1,1218"},
  {"tl": 25.303, "p": 1.1209, "label": "1,1209"},
  {"tl": 25.303, "p": 1.1198, "label": "1,1198"},
  {"tl": 25.303, "p": 1.1193, "label": "1,1193"},
  {"tl": 25.303, "p": 1.1188, "label": "1,1188"},
  {"tl": 25.303, "p": 1.1177, "label": "1,1177"},
  {"tl": 25.303, "p": 1.1174, "label": "1,1174"}
 ]},
 "mark": {"type": "text", "align": "center", "baseline": "middle", "font": "Liberation Sans", "fontSize": 11, "color": "#1c1020"},
 "encoding": {"x": {"field": "tl", "type": "quantitative"}, "y": {"field": "p", "type": "quantitative"}, "text": {"field": "label"}}},
{"data": {"values": [
  {"t": 6.445, "p": 1.13905, "txt": "anaOpeningRangeV42MTF(6E 03-15 (3 Min),Mitteleuropäische Zeit ,True,One_Minute_Range,15:00,08:00,13:00,08:00,00:30,- 00:20,EuropeanSession,Auto,Japanische Normalzeit)"},
  {"t": 6.445, "p": 1.10878, "txt": "© 2015 NinjaTrader, LLC"}
 ]},
 "mark": {"type": "text", "align": "left", "baseline": "middle", "font": "Liberation Sans Narrow, Liberation Sans", "fontSize": 11, "color": "#ffffff"},
 "encoding": {"x": {"field": "t", "type": "quantitative"}, "y": {"field": "p", "type": "quantitative"}, "text": {"field": "txt"}}},
{"data": {"values": [{"t": 15.956, "p": 1.13977, "txt": "6E 03-15 (3 Min)  23.01.2015"}]},
 "mark": {"type": "text", "align": "center", "baseline": "middle", "font": "Liberation Sans Narrow, Liberation Sans", "fontSize": 17, "color": "#ffffff"},
 "encoding": {"x": {"field": "t", "type": "quantitative"}, "y": {"field": "p", "type": "quantitative"}, "text": {"field": "txt"}}},
{"data": {"values": [{"t": 24.83, "p": 1.13882}]},
 "mark": {"type": "point", "shape": "M-1,-0.91L0.35,0L-1,0.91Z M0.6,-0.91L1,-0.91L1,0.91L0.6,0.91Z", "size": 484, "filled": true, "color": "#ffffff", "opacity": 1},
 "encoding": {"x": {"field": "t", "type": "quantitative"}, "y": {"field": "p", "type": "quantitative"}}},
{"data": {"values": [{"t": 25.02, "t2": 25.8, "p": 1.13939}]},
 "mark": {"type": "rule", "color": "#ffffff", "strokeWidth": 1},
 "encoding": {"x": {"field": "t", "type": "quantitative"}, "x2": {"field": "t2"}, "y": {"field": "p", "type": "quantitative"}}}
]
}
